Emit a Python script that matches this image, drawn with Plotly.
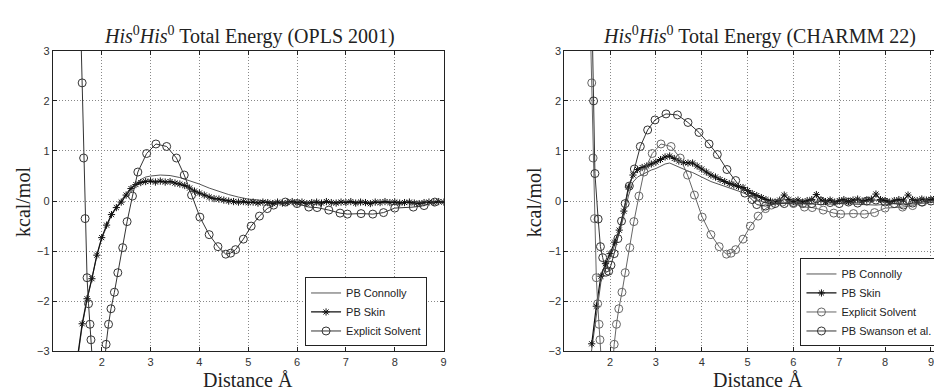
import plotly.graph_objects as go

# ---------------- data ----------------
# Left panel (OPLS 2001)
skin_L_x = [round(1.5 + 0.1 * i, 2) for i in range(76)]
skin_L_y = [-3.15, -2.45, -1.95, -1.55, -1.08, -0.73, -0.48, -0.27, -0.13, -0.02,
            0.12, 0.25, 0.33, 0.37, 0.39, 0.40, 0.38, 0.40, 0.38, 0.39,
            0.36, 0.34, 0.31, 0.26, 0.20, 0.16, 0.12, 0.08, 0.05, 0.04,
            0.02, 0.00, -0.01, -0.02, -0.01, -0.03, -0.02, -0.04, -0.02, -0.03,
            -0.05, -0.02, -0.04, -0.03, -0.01, -0.04, -0.02, -0.05, -0.03, -0.02,
            -0.04, -0.01, -0.03, -0.04, -0.02, -0.03, -0.01, -0.04, -0.02, -0.03,
            -0.05, -0.02, -0.03, -0.01, -0.03, -0.02, -0.04, -0.03, -0.02, -0.04,
            -0.05, -0.03, -0.02, -0.03, -0.01, -0.02]

conn_L_x = [1.5, 1.6, 1.7, 1.8, 1.9, 2.0, 2.1, 2.2, 2.3, 2.4, 2.5, 2.6, 2.7, 2.8, 2.9,
            3.0, 3.2, 3.4, 3.6, 3.8, 4.0, 4.2, 4.4, 4.6, 4.8, 5.0, 5.2, 5.4, 5.6, 5.8,
            6.0, 6.5, 7.0, 7.5, 8.0, 8.5, 9.0]
conn_L_y = [-3.2, -2.5, -1.97, -1.52, -1.1, -0.75, -0.5, -0.28, -0.12, 0.02, 0.15, 0.27,
            0.36, 0.43, 0.48, 0.50, 0.52, 0.51, 0.47, 0.41, 0.34, 0.26, 0.19, 0.13, 0.08,
            0.04, 0.02, -0.01, -0.02, -0.02, -0.03, -0.03, -0.02, -0.03, -0.02, -0.03, -0.02]

# Explicit solvent (same simulation shown in both panels)
expl_x = [1.57, 1.60, 1.63, 1.66, 1.70, 1.73, 1.76, 1.78, 1.82, 1.90, 2.00, 2.05,
          2.09, 2.14, 2.19, 2.26, 2.33, 2.43, 2.52, 2.63, 2.74, 2.92, 3.11, 3.33,
          3.53, 3.69, 3.84, 4.01, 4.20, 4.38, 4.54, 4.64, 4.74, 4.90, 5.06, 5.23,
          5.39, 5.52, 5.76, 6.00, 6.24, 6.41, 6.65, 6.88, 7.03, 7.31, 7.55, 7.77,
          8.00, 8.38, 8.60, 8.82]
expl_y = [3.5, 2.36, 0.86, -0.35, -1.53, -2.05, -2.46, -2.77, -3.6, -4.5, -4.0, -3.3,
          -2.86, -2.46, -2.15, -1.82, -1.43, -0.93, -0.41, 0.10, 0.58, 0.95, 1.14, 1.09,
          0.86, 0.52, 0.12, -0.32, -0.67, -0.91, -1.06, -1.04, -0.97, -0.76, -0.50, -0.30,
          -0.15, -0.08, -0.02, -0.05, -0.12, -0.13, -0.18, -0.24, -0.26, -0.25, -0.26, -0.23,
          -0.14, -0.12, -0.09, -0.02]

# Right panel (CHARMM 22)
skin_R_x = [round(1.6 + 0.1 * i, 2) for i in range(78)]
skin_R_y = [-2.85, -2.1, -1.5, -1.25, -1.05, -0.82, -0.58, -0.2, 0.28, 0.52,
            0.63, 0.67, 0.70, 0.74, 0.78, 0.83, 0.88, 0.90, 0.85, 0.80,
            0.77, 0.76, 0.76, 0.70, 0.64, 0.58, 0.52, 0.48, 0.43, 0.39,
            0.35, 0.32, 0.29, 0.27, 0.21, 0.15, 0.11, 0.07, 0.03, 0.00,
            -0.02, 0.02, 0.12, 0.03, -0.01, 0.02, -0.02, 0.01, 0.03, 0.13,
            0.02, -0.01, 0.02, -0.02, 0.01, 0.03, -0.01, 0.02, 0.04, 0.00,
            0.02, 0.04, 0.14, 0.03, 0.01, -0.02, 0.01, 0.03, 0.02, 0.12,
            0.03, 0.01, 0.04, 0.02, 0.03, 0.05, 0.04, 0.06]

conn_R_x = [1.58, 1.7, 1.8, 1.9, 2.0, 2.1, 2.2, 2.3, 2.4, 2.5, 2.6, 2.7, 2.8, 2.9, 3.0,
            3.1, 3.2, 3.3, 3.4, 3.5, 3.6, 3.7, 3.8, 3.9, 4.0, 4.2, 4.4, 4.6, 4.8, 5.0,
            5.2, 5.4, 5.6, 5.8, 6.0, 6.3, 6.6, 7.0, 7.4, 7.8, 8.2, 8.6, 9.0, 9.3]
conn_R_y = [-3.1, -2.3, -1.62, -1.35, -1.12, -0.9, -0.65, -0.3, 0.1, 0.38, 0.48, 0.53,
            0.58, 0.62, 0.65, 0.70, 0.74, 0.76, 0.72, 0.67, 0.63, 0.60, 0.57, 0.53, 0.48,
            0.39, 0.33, 0.27, 0.20, 0.13, 0.03, -0.04, -0.06, -0.04, -0.06, -0.05, -0.07,
            -0.05, -0.06, -0.08, -0.05, -0.06, -0.03, 0.0]

swan_x = [1.61, 1.64, 1.67, 1.74, 1.79, 1.84, 1.91, 1.97, 2.02, 2.09, 2.17, 2.25,
          2.33, 2.42, 2.53, 2.66, 2.82, 2.98, 3.22, 3.47, 3.70, 3.94, 4.16, 4.34,
          4.55, 4.74, 4.94, 5.10, 5.20, 5.39, 5.60, 5.80, 6.00, 6.20, 6.40, 6.60,
          6.80, 7.00, 7.20, 7.40, 7.60, 7.80, 8.00, 8.20, 8.40, 8.60, 8.80, 9.00, 9.20]
swan_y = [3.5, 2.0, 0.55, -0.36, -0.91, -1.13, -1.42, -1.40, -1.28, -1.05, -0.75, -0.40,
          -0.05, 0.30, 0.64, 1.09, 1.42, 1.62, 1.74, 1.72, 1.57, 1.37, 1.14, 0.93,
          0.63, 0.41, 0.16, 0.03, -0.07, -0.10, -0.05, -0.05, -0.03, -0.05, -0.05, 0.00,
          -0.03, -0.05, -0.02, -0.04, 0.00, 0.02, -0.02, -0.05, -0.08, -0.04, -0.02, 0.00, 0.03]

titles = ["<i>His</i><sup>0</sup><i>His</i><sup>0</sup> Total Energy (OPLS 2001)",
          "<i>His</i><sup>0</sup><i>His</i><sup>0</sup> Total Energy (CHARMM 22)"]
x_ticks = [2, 3, 4, 5, 6, 7, 8, 9]
y_ticks = [-3, -2, -1, 0, 1, 2, 3]

# ---------------- figure ----------------
W, H = 942, 391
def fx(p):
    return p / W
def fy(p):
    return 1 - p / H

SANS = "Liberation Sans, Arial, sans-serif"
SERIF = "Liberation Serif, Times New Roman, serif"

fig = go.Figure()

skin_marker = dict(symbol="asterisk", size=6, line=dict(width=1, color="#111"))

# left panel
fig.add_trace(go.Scatter(x=conn_L_x, y=conn_L_y, mode="lines", name="PB Connolly",
                         line=dict(color="#555", width=1), xaxis="x", yaxis="y", legend="legend"))
fig.add_trace(go.Scatter(x=skin_L_x, y=skin_L_y, mode="lines+markers", name="PB Skin",
                         line=dict(color="#111", width=1.2), marker=skin_marker,
                         xaxis="x", yaxis="y", legend="legend"))
fig.add_trace(go.Scatter(x=expl_x, y=expl_y, mode="lines+markers", name="Explicit Solvent",
                         line=dict(color="#333", width=1),
                         marker=dict(symbol="circle-open", size=8, color="#333", line=dict(width=1)),
                         xaxis="x", yaxis="y", legend="legend"))

# right panel
fig.add_trace(go.Scatter(x=conn_R_x, y=conn_R_y, mode="lines", name="PB Connolly",
                         line=dict(color="#555", width=1), xaxis="x2", yaxis="y2", legend="legend2"))
fig.add_trace(go.Scatter(x=skin_R_x, y=skin_R_y, mode="lines+markers", name="PB Skin",
                         line=dict(color="#111", width=1.2), marker=skin_marker,
                         xaxis="x2", yaxis="y2", legend="legend2"))
fig.add_trace(go.Scatter(x=expl_x, y=expl_y, mode="lines+markers", name="Explicit Solvent",
                         line=dict(color="#666", width=1),
                         marker=dict(symbol="circle-open", size=8, color="#666", line=dict(width=1)),
                         xaxis="x2", yaxis="y2", legend="legend2"))
fig.add_trace(go.Scatter(x=swan_x, y=swan_y, mode="lines+markers", name="PB Swanson et al.",
                         line=dict(color="#333", width=1),
                         marker=dict(symbol="circle-open", size=8, color="#333", line=dict(width=1)),
                         xaxis="x2", yaxis="y2", legend="legend2"))

axis_common = dict(showgrid=True, gridcolor="#888", griddash="1px,2px", gridwidth=1,
                   zeroline=False, showline=True, linecolor="#222", linewidth=1,
                   ticks="inside", ticklen=4, tickcolor="#222",
                   tickfont=dict(family=SANS, size=11, color="#333"))

fig.update_layout(
    width=W, height=H,
    margin=dict(l=0, r=0, t=0, b=0),
    paper_bgcolor="white", plot_bgcolor="white",
    showlegend=True,
    xaxis=dict(domain=[fx(45), fx(437)], range=[1, 9], tickvals=x_ticks, mirror="ticks",
               anchor="y", **axis_common),
    yaxis=dict(domain=[fy(348), fy(38)], range=[-3, 3], tickvals=y_ticks, mirror="ticks",
               anchor="x", **axis_common),
    xaxis2=dict(domain=[fx(558), fx(942)], range=[1, 9.35], tickvals=x_ticks, mirror="ticks",
                anchor="y2", **axis_common),
    yaxis2=dict(domain=[fy(348), fy(38)], range=[-3, 3], tickvals=y_ticks, mirror=False,
                anchor="x2", **axis_common),
    legend=dict(x=fx(298), y=fy(343), xanchor="left", yanchor="bottom",
                bgcolor="white", bordercolor="#222", borderwidth=1,
                font=dict(family=SANS, size=11, color="#222"), tracegroupgap=0),
    legend2=dict(x=fx(795), y=fy(343), xanchor="left", yanchor="bottom",
                 bgcolor="white", bordercolor="#222", borderwidth=1,
                 font=dict(family=SANS, size=11, color="#222"), tracegroupgap=0),
)

annots = []
for cx, t in [(242, titles[0]), (754, titles[1])]:
    annots.append(dict(x=fx(cx), y=fy(22), xref="paper", yref="paper", text=t, showarrow=False,
                       xanchor="center", yanchor="middle",
                       font=dict(family=SERIF, size=20, color="#222")))
for cx in [241, 752]:
    annots.append(dict(x=fx(cx), y=fy(378), xref="paper", yref="paper", text="Distance Å",
                       showarrow=False, xanchor="center", yanchor="middle",
                       font=dict(family=SERIF, size=20, color="#222")))
for cx in [15, 528]:
    annots.append(dict(x=fx(cx), y=fy(194), xref="paper", yref="paper", text="kcal/mol",
                       showarrow=False, xanchor="center", yanchor="middle", textangle=-90,
                       font=dict(family=SERIF, size=20, color="#222")))
fig.update_layout(annotations=annots)

fig.write_html("out.html")
